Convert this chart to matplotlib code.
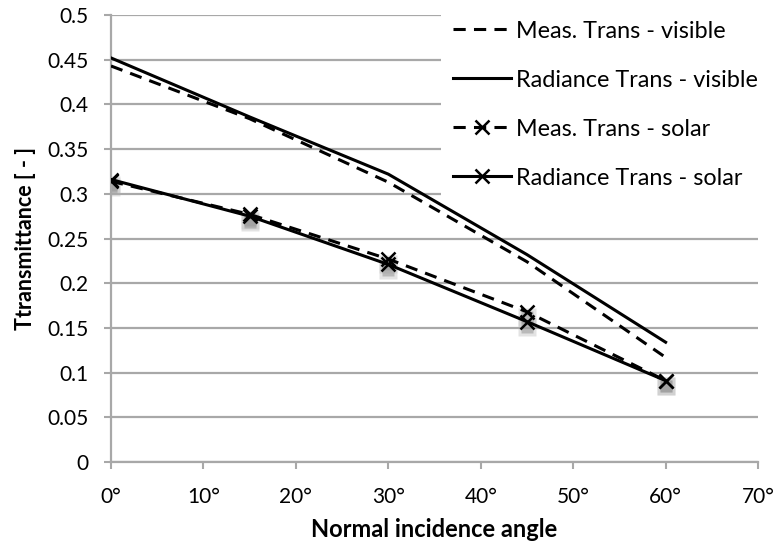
import matplotlib.pyplot as plt
from matplotlib.patches import Rectangle
from matplotlib.ticker import FuncFormatter, MultipleLocator

plt.rcParams['font.family'] = ['Lato', 'DejaVu Sans']

# data
angles = [0, 15, 30, 45, 60]
meas_vis = [0.443, 0.384, 0.313, 0.224, 0.117]
rad_vis = [0.452, 0.386, 0.322, 0.232, 0.134]
meas_sol = [0.314, 0.277, 0.227, 0.168, 0.091]
rad_sol = [0.316, 0.275, 0.221, 0.157, 0.091]

fig = plt.figure(figsize=(7.74, 5.5), dpi=100)
ax = fig.add_axes([0.1434, 0.16, 0.836, 0.8127])

grid_c = '#a8a8a8'
lw = 2.2
dash = (4, 2.7)

# blurry gray marker shadows, like the excel effect
for ys in (meas_sol, rad_sol):
    sh = [y - 0.006 for y in ys]
    ax.plot(angles, sh, ls='none', marker='s', ms=13, color='#b0b0b0', alpha=0.35, mec='none', zorder=2)
    ax.plot(angles, sh, ls='none', marker='s', ms=9, color='#909090', alpha=0.5, mec='none', zorder=2)

ax.plot(angles, meas_vis, color='black', lw=lw, dashes=dash, label='Meas. Trans - visible', zorder=3)
ax.plot(angles, rad_vis, color='black', lw=lw, label='Radiance Trans - visible', zorder=3)
ax.plot(angles, meas_sol, color='black', lw=lw, dashes=dash, marker='x', ms=10, mew=1.8,
        label='Meas. Trans - solar', zorder=3)
ax.plot(angles, rad_sol, color='black', lw=lw, marker='x', ms=10, mew=1.8,
        label='Radiance Trans - solar', zorder=3)

ax.set_xlim(0, 70)
ax.set_ylim(0, 0.5)
ax.xaxis.set_major_locator(MultipleLocator(10))
ax.yaxis.set_major_locator(MultipleLocator(0.05))
ax.xaxis.set_major_formatter(FuncFormatter(lambda v, p: f'{v:.0f}°'))
ax.yaxis.set_major_formatter(FuncFormatter(lambda v, p: f'{v:g}'))

ax.grid(axis='y', color=grid_c, lw=1.6)
ax.set_axisbelow(True)
for s in ('top', 'right'):
    ax.spines[s].set_visible(False)
for s in ('left', 'bottom'):
    ax.spines[s].set_color(grid_c)
    ax.spines[s].set_linewidth(1.6)
ax.tick_params(axis='both', colors=grid_c, labelcolor='black', labelsize=15, width=1.5, length=5)
ax.tick_params(axis='x', pad=13)
ax.tick_params(axis='y', pad=11)

ax.set_xlabel('Normal incidence angle', fontsize=17, fontweight='bold', labelpad=8)
ax.set_ylabel('Ttransmittance [ - ]', fontsize=15.5, fontweight='bold', labelpad=8)

# white block behind the legend, hides the gridlines up to the right edge
ax.add_patch(Rectangle((441 / 774, 1 - 200 / 550), 1 - 441 / 774, 191 / 550,
                       transform=fig.transFigure, facecolor='white', edgecolor='none',
                       clip_on=False, zorder=1))

leg = fig.legend(loc='upper left', bbox_to_anchor=(441 / 774, 1 - 9 / 550), fontsize=16.8,
                 frameon=True, facecolor='white', edgecolor='none', framealpha=1,
                 fancybox=False, handlelength=2.5, handletextpad=0.2,
                 labelspacing=1.2, borderpad=0.5, borderaxespad=0)
leg.set_zorder(5)

fig.savefig('out.png', dpi=100)
